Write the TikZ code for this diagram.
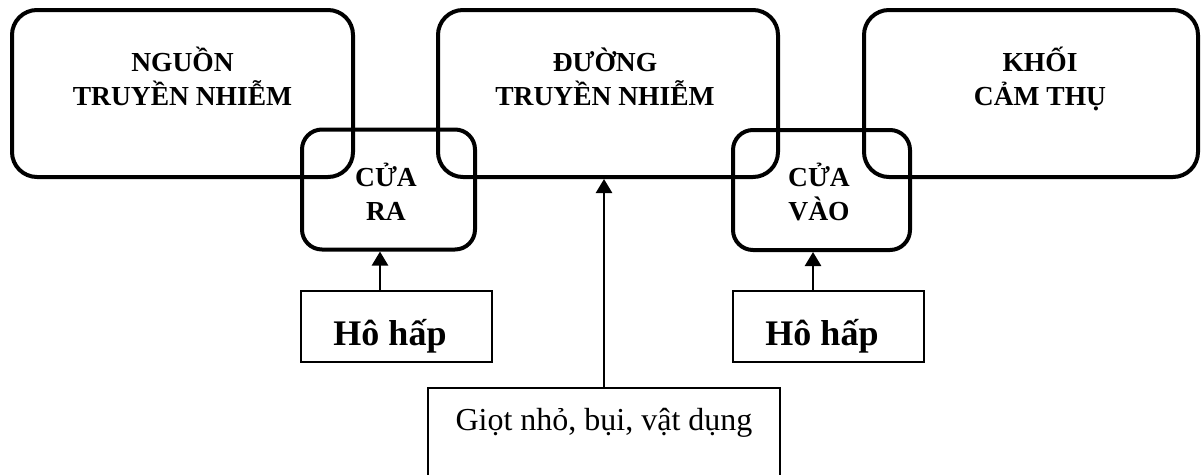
\documentclass[tikz,border=0pt]{standalone}
\usepackage{fontspec}
\setmainfont{Liberation Serif}
\usetikzlibrary{arrows.meta}

\tikzset{
  bigbox/.style={draw,line width=4pt,rounded corners=25pt,minimum height=167pt,inner sep=0pt},
  gatebox/.style={draw,line width=4pt,rounded corners=20pt,minimum height=120pt,inner sep=0pt},
  srcbox/.style={draw,line width=2pt,minimum width=191pt,minimum height=71pt,inner sep=0pt},
  wayin/.style={draw,line width=1.5pt,minimum width=352pt,minimum height=100pt,inner sep=0pt},
  bigtxt/.style={align=center,font=\bfseries\fontsize{27.5}{34}\selectfont,anchor=base},
  srctxt/.style={font=\bfseries\fontsize{36}{40}\selectfont,anchor=base},
  waytxt/.style={font=\fontsize{32}{36}\selectfont,anchor=base},
  arr/.style={line width=2.5pt,-{Triangle[length=14pt,width=16pt]}}
}

\begin{document}
\begin{tikzpicture}[x=1pt,y=-1pt]
  \useasboundingbox (0,0) rectangle (1202,474);
  \pgfmathsetmacro{\tb}{105}
  \pgfmathsetmacro{\gb}{220}

  % the three main links
  \node[bigbox,minimum width=341pt] (nguon) at (182.5,93.5) {};
  \node[bigbox,minimum width=340pt] (duong) at (608,93.5) {};
  \node[bigbox,minimum width=334pt] (khoi) at (1031,93.5) {};
  \node[bigtxt] (nguon-txt) at (182.5,\tb) {NGUỒN\\TRUYỀN NHIỄM};
  \node[bigtxt] (duong-txt) at (605,\tb) {ĐƯỜNG\\TRUYỀN NHIỄM};
  \node[bigtxt] (khoi-txt) at (1040,\tb) {KHỐI\\CẢM THỤ};

  % gates
  \node[gatebox,minimum width=173pt] (cuara) at (388.5,189.5) {};
  \node[gatebox,minimum width=177pt] (cuavao) at (821.5,190) {};
  \node[bigtxt] (cuara-txt) at (386,\gb) {CỬA\\RA};
  \node[bigtxt] (cuavao-txt) at (819,\gb) {CỬA\\VÀO};

  % respiratory
  \node[srcbox] (hohap1) at (396,326.5) {};
  \node[srcbox] (hohap2) at (828,326.5) {};
  \node[srctxt] (hohap1-txt) at (390,345) {Hô hấp};
  \node[srctxt] (hohap2-txt) at (822,345) {Hô hấp};

  % transmission means
  \node[wayin] (giot) at (604,438) {};
  \node[waytxt] (giot-txt) at (604,430) {Giọt nhỏ, bụi, vật dụng};

  \draw[arr] ([xshift=-16pt]hohap1.north) -- ([xshift=-16pt]hohap1.north |- cuara.south);
  \draw[arr] ([xshift=-15pt]hohap2.north) -- ([xshift=-15pt]hohap2.north |- cuavao.south);
  \draw[arr] (giot.north) -- (giot.north |- duong.south);
\end{tikzpicture}
\end{document}
